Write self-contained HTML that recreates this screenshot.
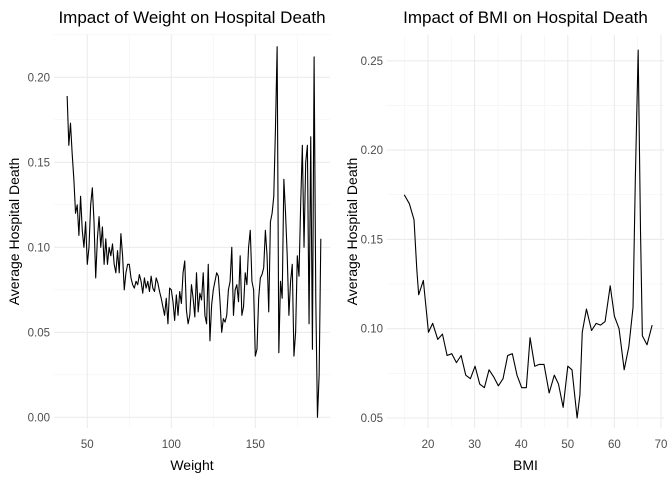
<!DOCTYPE html>
<html><head><meta charset="utf-8"><style>
body{margin:0;background:#fff;}
svg text{font-family:"Liberation Sans",sans-serif;}
</style></head><body>
<svg id="c" width="672" height="480" xmlns="http://www.w3.org/2000/svg"></svg>
<script>
const weightStart = 38;
const weightValues = [0.189,0.16,0.173,0.155,0.14,0.12,0.125,0.107,0.13,0.11,0.1,0.115,0.09,0.1,0.125,0.135,0.115,0.082,0.105,0.118,0.1,0.112,0.09,0.105,0.09,0.1,0.095,0.102,0.09,0.085,0.098,0.085,0.108,0.095,0.075,0.085,0.09,0.09,0.082,0.078,0.076,0.08,0.078,0.084,0.08,0.073,0.082,0.076,0.08,0.074,0.083,0.076,0.074,0.082,0.079,0.074,0.07,0.065,0.06,0.07,0.055,0.076,0.075,0.068,0.057,0.072,0.06,0.074,0.067,0.085,0.092,0.063,0.055,0.06,0.078,0.07,0.059,0.085,0.062,0.073,0.069,0.085,0.06,0.055,0.09,0.045,0.066,0.075,0.08,0.085,0.083,0.068,0.05,0.058,0.056,0.06,0.075,0.08,0.1,0.06,0.075,0.078,0.068,0.095,0.06,0.065,0.085,0.078,0.1,0.11,0.08,0.075,0.036,0.04,0.07,0.082,0.084,0.088,0.11,0.095,0.062,0.115,0.12,0.13,0.17,0.218,0.038,0.08,0.07,0.14,0.12,0.095,0.06,0.08,0.09,0.036,0.05,0.095,0.083,0.125,0.16,0.1,0.15,0.16,0.055,0.165,0.04,0.212,0.07,0.0,0.025,0.105];
const bmiX = [14.9,16,17,17.6,18,19,20.1,21,22.1,23.1,24.1,25.1,26.1,27.1,28.1,29.1,30.1,31.1,32.1,33.1,34.1,35.1,36.1,37.1,38.1,39.1,40.1,41.1,41.9,42.9,43.9,44.9,46,47.1,48,49,50,50.9,52,52.6,53.1,54,55.1,56.1,57,58,59.1,60,61,62.1,63.1,64,64.5,65.1,65.6,66,67,68.1];
const bmiValues = [0.175,0.17,0.161,0.133,0.119,0.127,0.098,0.103,0.094,0.097,0.085,0.086,0.081,0.085,0.074,0.072,0.079,0.069,0.067,0.077,0.073,0.068,0.072,0.085,0.086,0.074,0.067,0.067,0.095,0.079,0.08,0.08,0.064,0.074,0.069,0.056,0.079,0.077,0.05,0.063,0.098,0.111,0.099,0.103,0.102,0.104,0.124,0.107,0.1,0.077,0.09,0.112,0.185,0.256,0.155,0.096,0.091,0.102];
const leftXTicks = [50,100,150];
const leftYTicks = [0,0.05,0.1,0.15,0.2];
const leftYLabels = ["0.00","0.05","0.10","0.15","0.20"];
const rightXTicks = [20,30,40,50,60,70];
const rightYTicks = [0.05,0.1,0.15,0.2,0.25];
const rightYLabels = ["0.05","0.10","0.15","0.20","0.25"];

const svg=document.getElementById('c');
const NS='http://www.w3.org/2000/svg';
function mk(tag,attrs,parent){const e=document.createElementNS(NS,tag);for(const k in attrs)e.setAttribute(k,attrs[k]);(parent||svg).appendChild(e);return e;}

function panel(o){
  const g=mk('g',{});
  
  
  const sx=v=>o.x0px+(v-o.x0)*o.xs, sy=v=>o.y0px-(v-o.y0)*o.ys;
  o.xMinor.forEach(v=>{const l=mk('line',{x1:sx(v),x2:sx(v),y1:o.top,y2:o.bot,stroke:'#f2f2f2','stroke-width':0.6},g);
    
    });
  o.yMinor.forEach(v=>{const l=mk('line',{x1:o.left,x2:o.right,y1:sy(v),y2:sy(v),stroke:'#f2f2f2','stroke-width':0.6},g);
    
    });
  o.xTicks.forEach(v=>{const l=mk('line',{x1:sx(v),x2:sx(v),y1:o.top,y2:o.bot,stroke:'#ebebeb','stroke-width':1.1},g);
    
    
    const t=mk('text',{x:sx(v),y:o.bot+20,'text-anchor':'middle','font-size':11.5,fill:'#4d4d4d'},g);t.textContent=v;
    
    });
  o.yTicks.forEach((v,i)=>{const l=mk('line',{x1:o.left,x2:o.right,y1:sy(v),y2:sy(v),stroke:'#ebebeb','stroke-width':1.1},g);
    
    
    const t=mk('text',{x:o.left-4,y:sy(v)+4,'text-anchor':'end','font-size':11.5,fill:'#4d4d4d'},g);t.textContent=o.yLabels[i];
    
    });
  const pts=o.xs_.map((x,i)=>sx(x).toFixed(2)+','+sy(o.vals[i]).toFixed(2)).join(' ');
  const p=mk('polyline',{points:pts,fill:'none',stroke:'#000','stroke-width':1.1,'stroke-linejoin':'round'},g);
  
  
  const tt=mk('text',{x:(o.left+o.right)/2,y:23,'text-anchor':'middle','font-size':17,fill:'#000'},g);tt.textContent=o.title;
  
  
  const xt=mk('text',{x:(o.left+o.right)/2,y:470,'text-anchor':'middle','font-size':14,fill:'#000'},g);xt.textContent=o.xTitle;
  
  
  const yc=(o.top+o.bot)/2;
  const yt=mk('text',{x:o.yTitleX,y:yc,'text-anchor':'middle','font-size':14,fill:'#000',transform:`rotate(-90 ${o.yTitleX} ${yc})`},g);yt.textContent='Average Hospital Death';
  
  
}
const wx=weightValues.map((v,i)=>weightStart+i);
panel({name:'weight-panel',title:'Impact of Weight on Hospital Death',xTitle:'Weight',yTitleX:19,
  left:54,right:330,top:35,bot:428,x0:50,x0px:87.3,xs:1.68,y0:0,y0px:417.3,ys:1700,
  xTicks:leftXTicks,xMinor:[75,125,175],yTicks:leftYTicks,yLabels:leftYLabels,yMinor:[0.025,0.075,0.125,0.175,0.225],
  xs_:wx,vals:weightValues});
panel({name:'bmi-panel',title:'Impact of BMI on Hospital Death',xTitle:'BMI',yTitleX:357,
  left:387,right:664,top:35,bot:428,x0:20,x0px:428,xs:4.66,y0:0.05,y0px:418,ys:1786,
  xTicks:rightXTicks,xMinor:[15,25,35,45,55,65],yTicks:rightYTicks,yLabels:rightYLabels,yMinor:[0.075,0.125,0.175,0.225],
  xs_:bmiX,vals:bmiValues});
</script>
</body></html>
